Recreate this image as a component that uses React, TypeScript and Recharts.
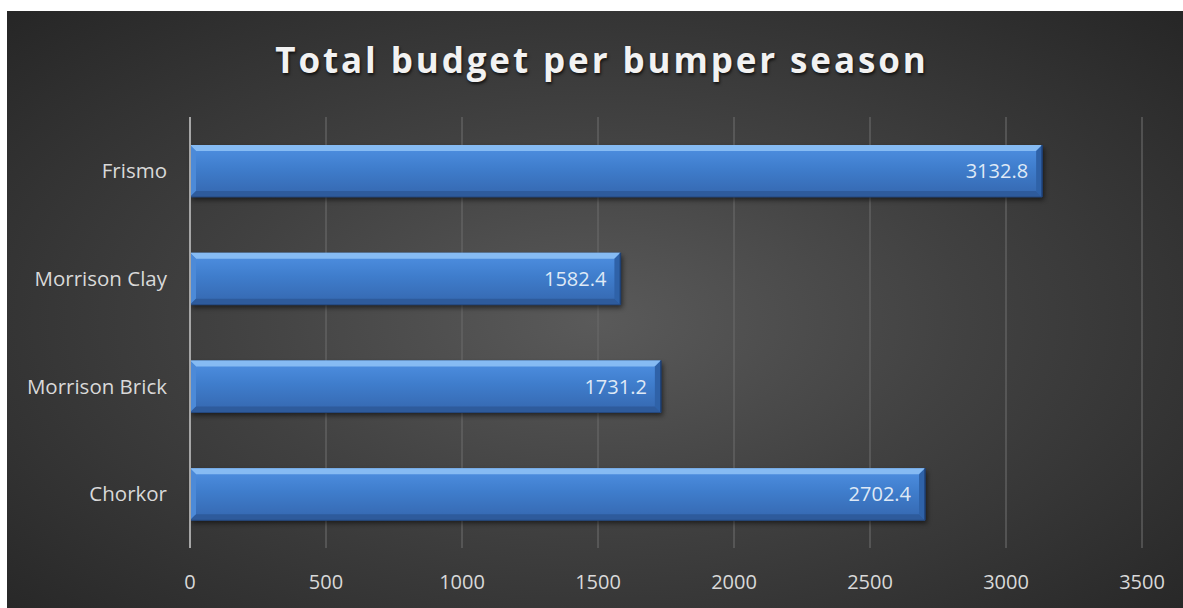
import React from 'react';
import { BarChart, Bar, XAxis, YAxis, CartesianGrid, LabelList } from 'recharts';

const categories = ['Frismo', 'Morrison Clay', 'Morrison Brick', 'Chorkor'];
const budgets = [3132.8, 1582.4, 1731.2, 2702.4];
const xTicks = [0, 500, 1000, 1500, 2000, 2500, 3000, 3500];

const data = categories.map((name, i) => ({ name, budget: budgets[i] }));

const FONT = '"Open Sans", "DejaVu Sans", sans-serif';

// bevelled blue bar, like the office "3-D" bar style
const BevelBar = (props: any) => {
  const { x, y, width, height, index } = props;
  if (!width || width <= 0) return null;
  const b = 6;
  const id = `bar-grad-${index}`;
  return (
    <g>
      <defs>
        <linearGradient id={id} x1="0" y1="0" x2="0" y2="1">
          <stop offset="0%" stopColor="#4f90e2" />
          <stop offset="45%" stopColor="#3f7dcc" />
          <stop offset="100%" stopColor="#3567af" />
        </linearGradient>
        <filter id={`shadow-${index}`} x="-5%" y="-20%" width="110%" height="160%">
          <feGaussianBlur stdDeviation="2.5" />
        </filter>
      </defs>
      <rect x={x + 2} y={y + 3} width={width} height={height} fill="#000" opacity={0.55} filter={`url(#shadow-${index})`} />
      <rect x={x} y={y} width={width} height={height} fill={`url(#${id})`} />
      {/* top bevel */}
      <polygon points={`${x},${y} ${x + width},${y} ${x + width - b},${y + b} ${x + b},${y + b}`} fill="#86bbf3" />
      {/* left bevel */}
      <polygon points={`${x},${y} ${x + b},${y + b} ${x + b},${y + height - b} ${x},${y + height}`} fill="#4c8ad8" />
      {/* bottom bevel */}
      <polygon points={`${x},${y + height} ${x + b},${y + height - b} ${x + width - b},${y + height - b} ${x + width},${y + height}`} fill="#2e5b9c" />
      {/* right bevel */}
      <polygon points={`${x + width},${y} ${x + width},${y + height} ${x + width - b},${y + height - b} ${x + width - b},${y + b}`} fill="#2f62a8" />
      <line x1={x + width} y1={y} x2={x + width} y2={y + height} stroke="#1d3f73" strokeWidth={1.5} />
      <line x1={x} y1={y + height} x2={x + width} y2={y + height} stroke="#24487f" strokeWidth={1} />
    </g>
  );
};

const App: React.FC = () => {
  return (
    <div
      style={{
        position: 'absolute',
        left: 7,
        top: 11,
        width: 1176,
        height: 597,
        background: 'radial-gradient(ellipse at 50% 52%, #5a5a5a 0%, #414141 45%, #262626 100%)',
        fontFamily: FONT,
      }}
    >
      <div
        style={{
          position: 'absolute',
          top: 26,
          left: 14,
          width: 1162,
          textAlign: 'center',
          color: '#f2f2f2',
          fontSize: 35,
          fontWeight: 700,
          letterSpacing: 2.9,
          lineHeight: '46px',
          textShadow: '1px 2px 3px rgba(0,0,0,0.7)',
        }}
      >
        Total budget per bumper season
      </div>
      <BarChart
        width={1176}
        height={597}
        data={data}
        layout="vertical"
        margin={{ top: 106, right: 41, bottom: 20, left: 0 }}
        style={{ position: 'absolute', left: 0, top: 0 }}
      >
        <CartesianGrid horizontal={false} stroke="#686868" strokeWidth={1.2} />
        <XAxis
          type="number"
          domain={[0, 3500]}
          ticks={xTicks}
          axisLine={false}
          tickLine={false}
          tickSize={0}
          tickMargin={27}
          height={40}
          tick={{ fill: '#d9d9d9', fontSize: 20, fontFamily: FONT }}
        />
        <YAxis
          type="category"
          dataKey="name"
          width={183}
          axisLine={{ stroke: '#a6a6a6', strokeWidth: 2 }}
          tickLine={false}
          tickSize={0}
          tickMargin={23}
          tick={{ fill: '#d9d9d9', fontSize: 20.5, fontFamily: FONT }}
        />
        <Bar dataKey="budget" barSize={52} shape={<BevelBar />} isAnimationActive={false}>
          <LabelList
            dataKey="budget"
            position="insideRight"
            offset={14}
            fill="#dfe9f6"
            fontSize={20}
            fontFamily={FONT}
          />
        </Bar>
      </BarChart>
    </div>
  );
};

export default App;
